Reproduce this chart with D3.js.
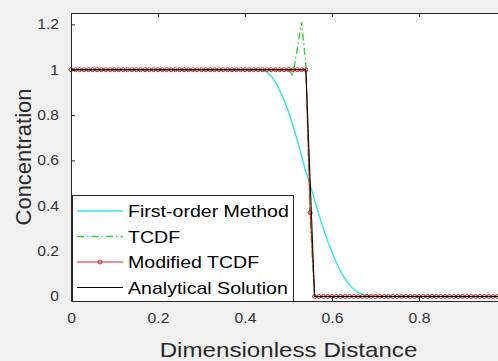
<!DOCTYPE html>
<html>
<head>
<meta charset="utf-8">
<script src="https://cdn.jsdelivr.net/npm/d3@7/dist/d3.min.js"></script>
<style>
  body { margin: 0; background: #f0f0f0; }
  svg { display: block; font-family: "Liberation Sans", Arial, sans-serif; }
</style>
</head>
<body>
<svg id="chart" width="498" height="361"></svg>
<script>
// grid of dimensionless distance
const distance = [
  0, 0.01, 0.02, 0.03, 0.04, 0.05, 0.06, 0.07, 0.08, 0.09,
  0.1, 0.11, 0.12, 0.13, 0.14, 0.15, 0.16, 0.17, 0.18, 0.19,
  0.2, 0.21, 0.22, 0.23, 0.24, 0.25, 0.26, 0.27, 0.28, 0.29,
  0.3, 0.31, 0.32, 0.33, 0.34, 0.35, 0.36, 0.37, 0.38, 0.39,
  0.4, 0.41, 0.42, 0.43, 0.44, 0.45, 0.46, 0.47, 0.48, 0.49,
  0.5, 0.51, 0.52, 0.53, 0.54, 0.55, 0.56, 0.57, 0.58, 0.59,
  0.6, 0.61, 0.62, 0.63, 0.64, 0.65, 0.66, 0.67, 0.68, 0.69,
  0.7, 0.71, 0.72, 0.73, 0.74, 0.75, 0.76, 0.77, 0.78, 0.79,
  0.8, 0.81, 0.82, 0.83, 0.84, 0.85, 0.86, 0.87, 0.88, 0.89,
  0.9, 0.91, 0.92, 0.93, 0.94, 0.95, 0.96, 0.97, 0.98, 0.99,
  1
];

const firstOrder = [
  1, 1, 1, 1, 1, 1, 1, 1, 1, 1,
  1, 1, 1, 1, 1, 1, 1, 1, 1, 1,
  1, 1, 1, 1, 1, 1, 1, 1, 1, 1,
  1, 1, 1, 1, 1, 1, 1, 1, 1, 1,
  1, 1, 1, 1, 0.997, 0.99, 0.972, 0.945, 0.908, 0.865,
  0.815, 0.755, 0.69, 0.62, 0.55, 0.49, 0.425, 0.36, 0.3, 0.245,
  0.195, 0.15, 0.11, 0.078, 0.052, 0.032, 0.018, 0.009, 0.004, 0.001,
  0, 0, 0, 0, 0, 0, 0, 0, 0, 0,
  0, 0, 0, 0, 0, 0, 0, 0, 0, 0,
  0, 0, 0, 0, 0, 0, 0, 0, 0, 0,
  0
];

const tcdf = [
  1, 1, 1, 1, 1, 1, 1, 1, 1, 1,
  1, 1, 1, 1, 1, 1, 1, 1, 1, 1,
  1, 1, 1, 1, 1, 1, 1, 1, 1, 1,
  1, 1, 1, 1, 1, 1, 1, 1, 1, 1,
  1, 1, 1, 1, 1, 1, 1, 1, 1, 1,
  1, 0.975, 1.09, 1.21, 1.02, 0.33, 0, 0, 0, 0,
  0, 0, 0, 0, 0, 0, 0, 0, 0, 0,
  0, 0, 0, 0, 0, 0, 0, 0, 0, 0,
  0, 0, 0, 0, 0, 0, 0, 0, 0, 0,
  0, 0, 0, 0, 0, 0, 0, 0, 0, 0,
  0
];

const modifiedTcdf = [
  1, 1, 1, 1, 1, 1, 1, 1, 1, 1,
  1, 1, 1, 1, 1, 1, 1, 1, 1, 1,
  1, 1, 1, 1, 1, 1, 1, 1, 1, 1,
  1, 1, 1, 1, 1, 1, 1, 1, 1, 1,
  1, 1, 1, 1, 1, 1, 1, 1, 1, 1,
  1, 1, 1, 1, 1, 0.37, 0, 0, 0, 0,
  0, 0, 0, 0, 0, 0, 0, 0, 0, 0,
  0, 0, 0, 0, 0, 0, 0, 0, 0, 0,
  0, 0, 0, 0, 0, 0, 0, 0, 0, 0,
  0, 0, 0, 0, 0, 0, 0, 0, 0, 0,
  0
];

const analytical = [
  1, 1, 1, 1, 1, 1, 1, 1, 1, 1,
  1, 1, 1, 1, 1, 1, 1, 1, 1, 1,
  1, 1, 1, 1, 1, 1, 1, 1, 1, 1,
  1, 1, 1, 1, 1, 1, 1, 1, 1, 1,
  1, 1, 1, 1, 1, 1, 1, 1, 1, 1,
  1, 1, 1, 1, 1, 0.5, 0, 0, 0, 0,
  0, 0, 0, 0, 0, 0, 0, 0, 0, 0,
  0, 0, 0, 0, 0, 0, 0, 0, 0, 0,
  0, 0, 0, 0, 0, 0, 0, 0, 0, 0,
  0, 0, 0, 0, 0, 0, 0, 0, 0, 0,
  0
];

const seriesNames = ["First-order Method", "TCDF", "Modified TCDF", "Analytical Solution"];
// the tick at 1 sits past the right edge of the cropped figure
const xTicks = [0, 0.2, 0.4, 0.6, 0.8];
const yTicks = [0, 0.2, 0.4, 0.6, 0.8, 1, 1.2];

const svg = d3.select("#chart");
const margin = { top: 13, left: 71, bottom: 301, right: 506 };

// the original figure is stretched sideways, so text gets widened
const widen = (sel, k) => sel.each(function () {
  const w = this.getComputedTextLength();
  d3.select(this).attr("textLength", w * k).attr("lengthAdjust", "spacingAndGlyphs");
});

const x = d3.scaleLinear().domain([0, 1]).range([margin.left, margin.right]);
const y = d3.scaleLinear().domain([-0.02, 1.25]).range([margin.bottom, margin.top]);

svg.append("rect")
  .attr("x", margin.left).attr("y", margin.top)
  .attr("width", margin.right - margin.left)
  .attr("height", margin.bottom - margin.top)
  .attr("fill", "#fff");

const series = [
  { name: seriesNames[0], values: firstOrder, color: "#2ee8e8", width: 1.4, dash: null },
  { name: seriesNames[1], values: tcdf, color: "#2fd62f", width: 1.4, dash: "7,3,1.5,3" },
  { name: seriesNames[2], values: modifiedTcdf, color: "#e0242e", width: 1.1, dash: null, marker: true },
  { name: seriesNames[3], values: analytical, color: "#000", width: 1, dash: null }
];

const line = d3.line()
  .x((d, i) => x(distance[i]))
  .y(d => y(d));

const plot = svg.append("g");
series.forEach(s => {
  plot.append("path")
    .datum(s.values)
    .attr("fill", "none")
    .attr("stroke", s.color)
    .attr("stroke-width", s.width)
    .attr("stroke-dasharray", s.dash)
    .attr("d", line);
  if (s.marker) {
    plot.selectAll(null)
      .data(s.values)
      .join("circle")
      .attr("cx", (d, i) => x(distance[i]))
      .attr("cy", d => y(d))
      .attr("r", 2)
      .attr("fill", "none")
      .attr("stroke", "#b8141e")
      .attr("stroke-width", 0.9);
  }
});

// axes, ticks pointing inward like matlab
const axisColor = "#262626";
const styleAxis = g => {
  g.selectAll("path.domain").attr("stroke", axisColor);
  g.selectAll(".tick line").attr("stroke", axisColor);
};

const xAxis = svg.append("g")
  .attr("transform", `translate(0,${margin.bottom})`)
  .call(d3.axisBottom(x).tickValues(xTicks).tickFormat(d => String(d)).tickSize(-4).tickSizeOuter(0).tickPadding(12))
  .call(styleAxis);
xAxis.selectAll("text")
  .attr("fill", "#333").attr("font-size", 14).attr("dy", null).attr("y", 22)
  .call(widen, 1.12);

svg.append("g")
  .attr("transform", `translate(0,${margin.top})`)
  .call(d3.axisTop(x).tickValues(xTicks).tickFormat("").tickSize(-4).tickSizeOuter(0))
  .call(styleAxis);

const yAxis = svg.append("g")
  .attr("transform", `translate(${margin.left},0)`)
  .call(d3.axisLeft(y).tickValues(yTicks).tickFormat(d => String(d)).tickSize(-4).tickSizeOuter(0).tickPadding(12))
  .call(styleAxis);
yAxis.selectAll("text")
  .attr("fill", "#333").attr("font-size", 14).attr("x", -12)
  .call(widen, 1.12);

svg.append("g")
  .attr("transform", `translate(${margin.right},0)`)
  .call(d3.axisRight(y).tickValues(yTicks).tickFormat("").tickSize(-4).tickSizeOuter(0))
  .call(styleAxis);

// axis titles
svg.append("text")
  .attr("x", (margin.left + margin.right) / 2)
  .attr("y", 357)
  .attr("text-anchor", "middle")
  .attr("font-size", 21)
  .attr("fill", "#2a2a2a")
  .text("Dimensionless Distance")
  .call(widen, 1.15);

svg.append("text")
  .attr("transform", `translate(30.5,${(margin.top + margin.bottom) / 2}) rotate(-90)`)
  .attr("text-anchor", "middle")
  .attr("font-size", 22)
  .attr("fill", "#2a2a2a")
  .text("Concentration");

// legend
const legend = svg.append("g");
legend.append("rect")
  .attr("x", 72.5).attr("y", 195.5)
  .attr("width", 221).attr("height", 106)
  .attr("fill", "#fff")
  .attr("stroke", axisColor)
  .attr("stroke-width", 1);

const rowY = d3.scalePoint().domain(seriesNames).range([211, 287.5]);
series.forEach(s => {
  const ry = rowY(s.name);
  legend.append("line")
    .attr("x1", 77).attr("x2", 123)
    .attr("y1", ry).attr("y2", ry)
    .attr("stroke", s.color)
    .attr("stroke-width", s.width)
    .attr("stroke-dasharray", s.dash);
  if (s.marker) {
    legend.append("circle")
      .attr("cx", 100).attr("cy", ry).attr("r", 2)
      .attr("fill", "none").attr("stroke", "#b8141e").attr("stroke-width", 0.9);
  }
  legend.append("text")
    .attr("x", 128).attr("y", ry + 6)
    .attr("font-size", 17)
    .attr("fill", "#000")
    .text(s.name)
    .call(widen, 1.15);
});
</script>
</body>
</html>
